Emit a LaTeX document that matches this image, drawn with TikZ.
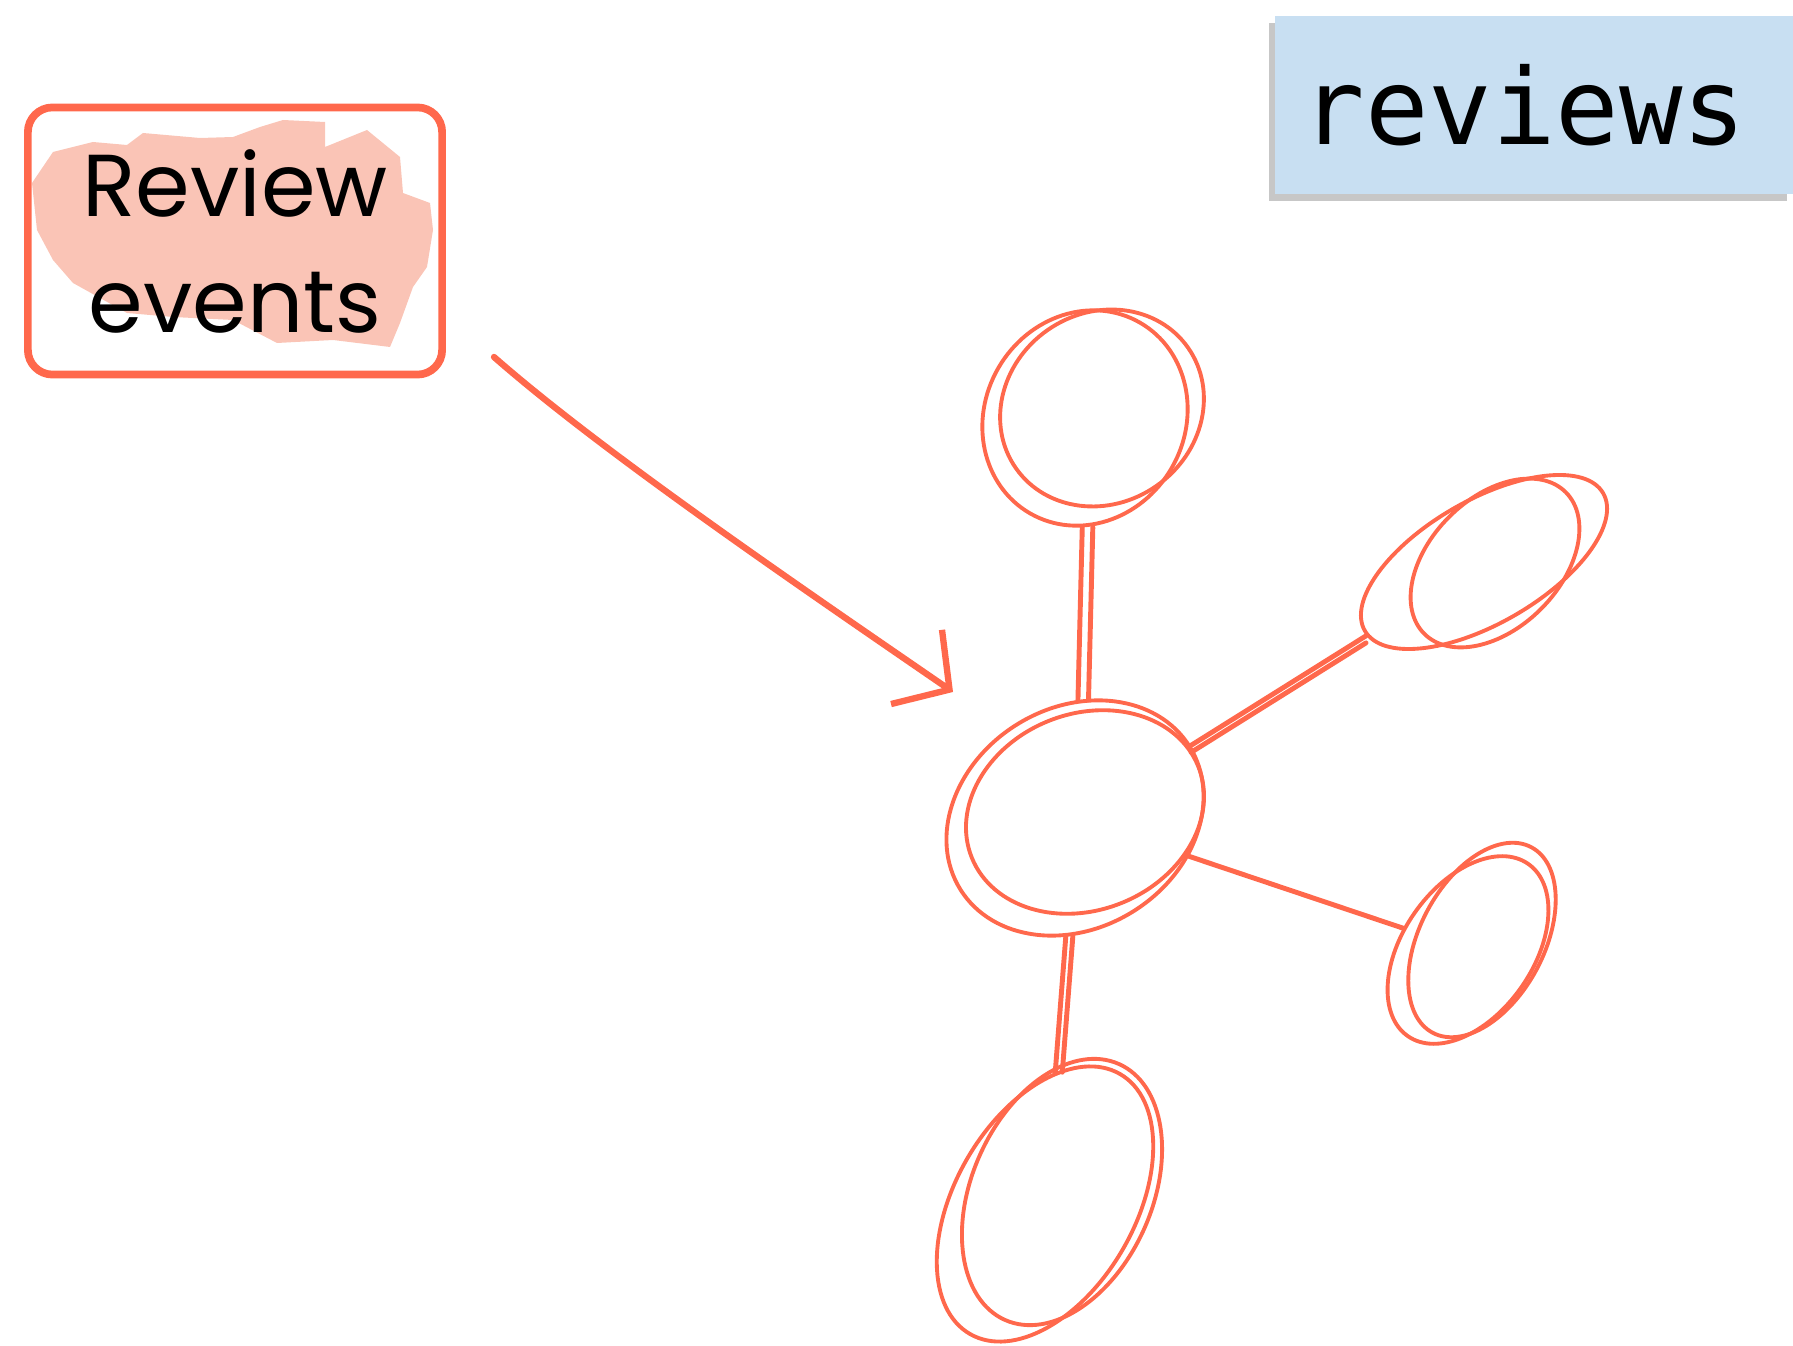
\documentclass[tikz,border=0pt]{standalone}
\usepackage{fontspec}
\usepackage{tikz}
\usetikzlibrary{arrows.meta,shapes.geometric,shadows}
\newfontfamily\handfont{Poppins}
\newfontfamily\codefont{DejaVu Sans Mono}
\definecolor{sketchred}{RGB}{255,104,76}
\definecolor{blush}{RGB}{250,196,182}
\definecolor{paleblue}{RGB}{200,223,242}
\tikzset{
  topic/.style={draw=sketchred, line width=2.2pt, rounded corners=7pt, minimum width=4.14cm, minimum height=2.67cm, align=center, font=\handfont\fontsize{25}{33}\selectfont},
  tablebox/.style={fill=paleblue, minimum width=5.18cm, minimum height=1.77cm, text width=4.64cm, inner xsep=0.27cm, align=left, font=\codefont\fontsize{30}{30}\selectfont,
    drop shadow={shadow xshift=-0.6mm, shadow yshift=-0.7mm, fill=black, opacity=0.22}},
  blob/.style={draw=sketchred, line width=1.1pt, ellipse, inner sep=0pt},
  stroke/.style={draw=sketchred, line width=1.1pt, line cap=round},
  link/.style={draw=sketchred, line width=1.4pt, line cap=round},
  arrow/.style={-{Straight Barb[length=4mm, width=9mm]}, line width=1.8pt, draw=sketchred, line cap=round}
}
\begin{document}
\begin{tikzpicture}[x=0.01cm, y=-0.01cm]
  \useasboundingbox (0,0) rectangle (1793,1346);
  % marker smudge behind the topic
  \fill[blush] (32,183) -- (53,152) -- (93,142) -- (127,145) -- (143,133) -- (200,138) -- (233,137) -- (260,127) -- (283,120) -- (325,122) -- (325,147) -- (367,130) -- (400,157) -- (403,193) -- (430,203) -- (433,230) -- (427,267) -- (413,287) -- (400,323) -- (390,347) -- (333,340) -- (277,343) -- (233,320) -- (173,317) -- (127,313) -- (73,283) -- (53,260) -- (37,230) -- cycle;
  \node[topic] (events) at (235,241) {Review\\events};
  \node[tablebox] (tbl) at (1534,105) {reviews};

  % entity graph
  \node[blob, rotate=32, minimum width=2.7cm, minimum height=2.2cm] (hub) at (1075,818) {};
  \node[blob, rotate=60, minimum width=2.2cm, minimum height=2.0cm] (top) at (1085,418) {};
  \node[blob, rotate=30, minimum width=2.75cm, minimum height=1.23cm] (rtop) at (1484,562) {};
  \node[blob, rotate=55, minimum width=2.1cm, minimum height=1.3cm] (rbot) at (1468,950) {};
  \node[blob, rotate=60, minimum width=3.0cm, minimum height=1.8cm] (bot) at (1045,1204) {};
  % second pencil strokes
  \draw[stroke, rotate around={22:(1085,812)}] (1085,812) ellipse [x radius=1.22cm, y radius=0.98cm];
  \draw[stroke, rotate around={35:(1102,408)}] (1102,408) ellipse [x radius=1.05cm, y radius=0.95cm];
  \draw[stroke, rotate around={45:(1495,563)}] (1495,563) ellipse [x radius=1.0cm, y radius=0.65cm];
  \draw[stroke, rotate around={62:(1482,940)}] (1482,940) ellipse [x radius=1.05cm, y radius=0.62cm];
  \draw[stroke, rotate around={66:(1062,1192)}] (1062,1192) ellipse [x radius=1.4cm, y radius=0.9cm];

  \draw[link] (top) -- (hub);
  \draw[link, transform canvas={xshift=3pt}] (top) -- (hub);
  \draw[link] (hub) -- (rtop);
  \draw[link, transform canvas={yshift=-2pt}] (hub) -- (rtop);
  \draw[link] (hub) -- (rbot);
  \draw[link] (hub) -- (bot);
  \draw[link, transform canvas={xshift=2pt}] (hub) -- (bot);

  \coordinate (tail) at (494,357);
  \coordinate (tip) at (953,692);
  \draw[arrow] (tail) .. controls (600,450) and (790,580) .. (tip);
\end{tikzpicture}
\end{document}
